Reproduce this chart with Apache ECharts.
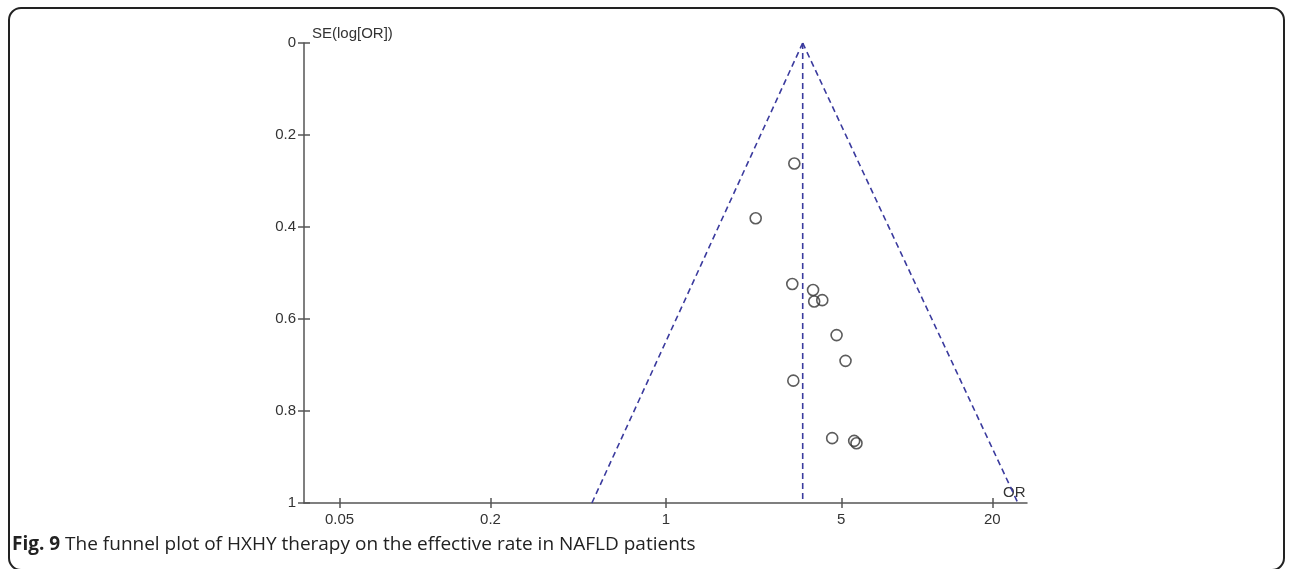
<!DOCTYPE html>
<html>
<head>
<meta charset="utf-8">
<script src="https://cdn.jsdelivr.net/npm/echarts@6/dist/echarts.min.js"></script>
<style>
  html, body { margin: 0; padding: 0; background: #fff; }
  #chart { width: 1290px; height: 569px; }
</style>
</head>
<body>
<div id="chart"></div>
<script>
// 各研究的 OR 与 SE(log[OR])
const studyOR = [3.25, 2.28, 3.19, 3.86, 3.90, 4.20, 4.79, 5.20, 3.22, 4.60, 5.63, 5.75]
const studySE = [0.262, 0.381, 0.524, 0.537, 0.562, 0.559, 0.635, 0.691, 0.734, 0.859, 0.865, 0.870]
// 合并 OR 以及漏斗两条边在 SE=0 和 SE=1 处的位置
const pooledOR = 3.51
const funnelSE = [0, 1]
const funnelLeftOR = [3.51, 0.507]
const funnelRightOR = [3.51, 25.3]
// 刻度
const xTicks = [0.05, 0.2, 1, 5, 20]
const yTicks = [0, 0.2, 0.4, 0.6, 0.8, 1]

const axisColor = '#555'
const labelColor = '#333'
const lineBlue = '#3b3b9e'
const font = "'Liberation Sans', Arial, sans-serif"
const capFont = "'Open Sans', 'Noto Sans', sans-serif"

const myEcharts = echarts.init(document.getElementById('chart'))

const pairs = (xs, ys) => xs.map((x, i) => [x, ys[i]])

const xBase = {
  type: 'log',
  logBase: 10,
  min: 0.0361,
  max: 27.5,
  splitLine: { show: false },
  axisLine: { onZero: false, lineStyle: { color: axisColor, width: 1.5 } }
}
const yBase = {
  type: 'value',
  inverse: true,
  min: yTicks[0],
  max: yTicks[yTicks.length - 1],
  interval: 0.2,
  splitLine: { show: false },
  axisLine: { onZero: false, lineStyle: { color: axisColor, width: 1.5 } }
}

const option = {
  animation: false,
  grid: { left: 304, top: 43, width: 723, height: 460, containLabel: false },
  xAxis: [
    Object.assign({}, xBase, {
      position: 'bottom',
      name: 'OR',
      nameLocation: 'end',
      nameGap: -24,
      nameTextStyle: { color: labelColor, fontSize: 15, fontFamily: font, align: 'left', verticalAlign: 'bottom', padding: [0, 0, 3, 0] },
      axisTick: { show: true, length: 5, customValues: xTicks, lineStyle: { color: axisColor, width: 1.5 } },
      axisLabel: {
        customValues: xTicks,
        color: labelColor,
        fontSize: 15,
        fontFamily: font,
        margin: 9,
        formatter: v => String(+Number(v).toPrecision(3))
      }
    }),
    Object.assign({}, xBase, {
      position: 'bottom',
      axisLine: { show: false, onZero: false },
      axisTick: { show: true, inside: true, length: 5, customValues: xTicks, lineStyle: { color: axisColor, width: 1.5 } },
      axisLabel: { show: false }
    })
  ],
  yAxis: [
    Object.assign({}, yBase, {
      position: 'left',
      name: 'SE(log[OR])',
      nameLocation: 'start',
      nameGap: 2,
      nameTextStyle: { color: labelColor, fontSize: 15, fontFamily: font, align: 'left', verticalAlign: 'bottom', padding: [0, 0, 0, 8] },
      axisTick: { show: true, length: 6, lineStyle: { color: axisColor, width: 1.5 } },
      axisLabel: {
        color: labelColor,
        fontSize: 15,
        fontFamily: font,
        margin: 8,
        formatter: v => String(+v.toFixed(1))
      }
    }),
    Object.assign({}, yBase, {
      position: 'left',
      axisLine: { show: false, onZero: false },
      axisTick: { show: true, inside: true, length: 6, lineStyle: { color: axisColor, width: 1.5 } },
      axisLabel: { show: false }
    })
  ],
  series: [
    {
      name: 'left limit',
      type: 'line',
      data: pairs(funnelLeftOR, funnelSE),
      symbol: 'none',
      lineStyle: { color: lineBlue, width: 1.6, type: [6, 4] },
      z: 2
    },
    {
      name: 'right limit',
      type: 'line',
      data: pairs(funnelRightOR, funnelSE),
      symbol: 'none',
      lineStyle: { color: lineBlue, width: 1.6, type: [6, 4] },
      z: 2
    },
    {
      name: 'pooled',
      type: 'line',
      data: pairs([pooledOR, pooledOR], funnelSE),
      symbol: 'none',
      lineStyle: { color: lineBlue, width: 1.6, type: [6, 4] },
      z: 2
    },
    {
      name: 'studies',
      type: 'scatter',
      data: pairs(studyOR, studySE),
      symbol: 'circle',
      symbolSize: 11,
      itemStyle: { color: 'rgba(0,0,0,0)', borderColor: '#333', borderWidth: 1.6 },
      z: 3
    }
  ],
  graphic: [
    {
      type: 'rect',
      shape: { x: 9, y: 8, width: 1275, height: 562, r: 12 },
      style: { fill: 'none', stroke: '#222', lineWidth: 2 },
      silent: true
    },
    {
      type: 'text',
      left: 12,
      top: 535,
      style: {
        text: '{b|Fig. 9} The funnel plot of HXHY therapy on the effective rate in NAFLD patients',
        fontSize: 19,
        fontFamily: capFont,
        fill: '#222',
        rich: {
          b: { fontSize: 19, fontWeight: 'bold', fontFamily: capFont, fill: '#222' }
        }
      }
    }
  ]
}
myEcharts.setOption(option)
</script>
</body>
</html>
